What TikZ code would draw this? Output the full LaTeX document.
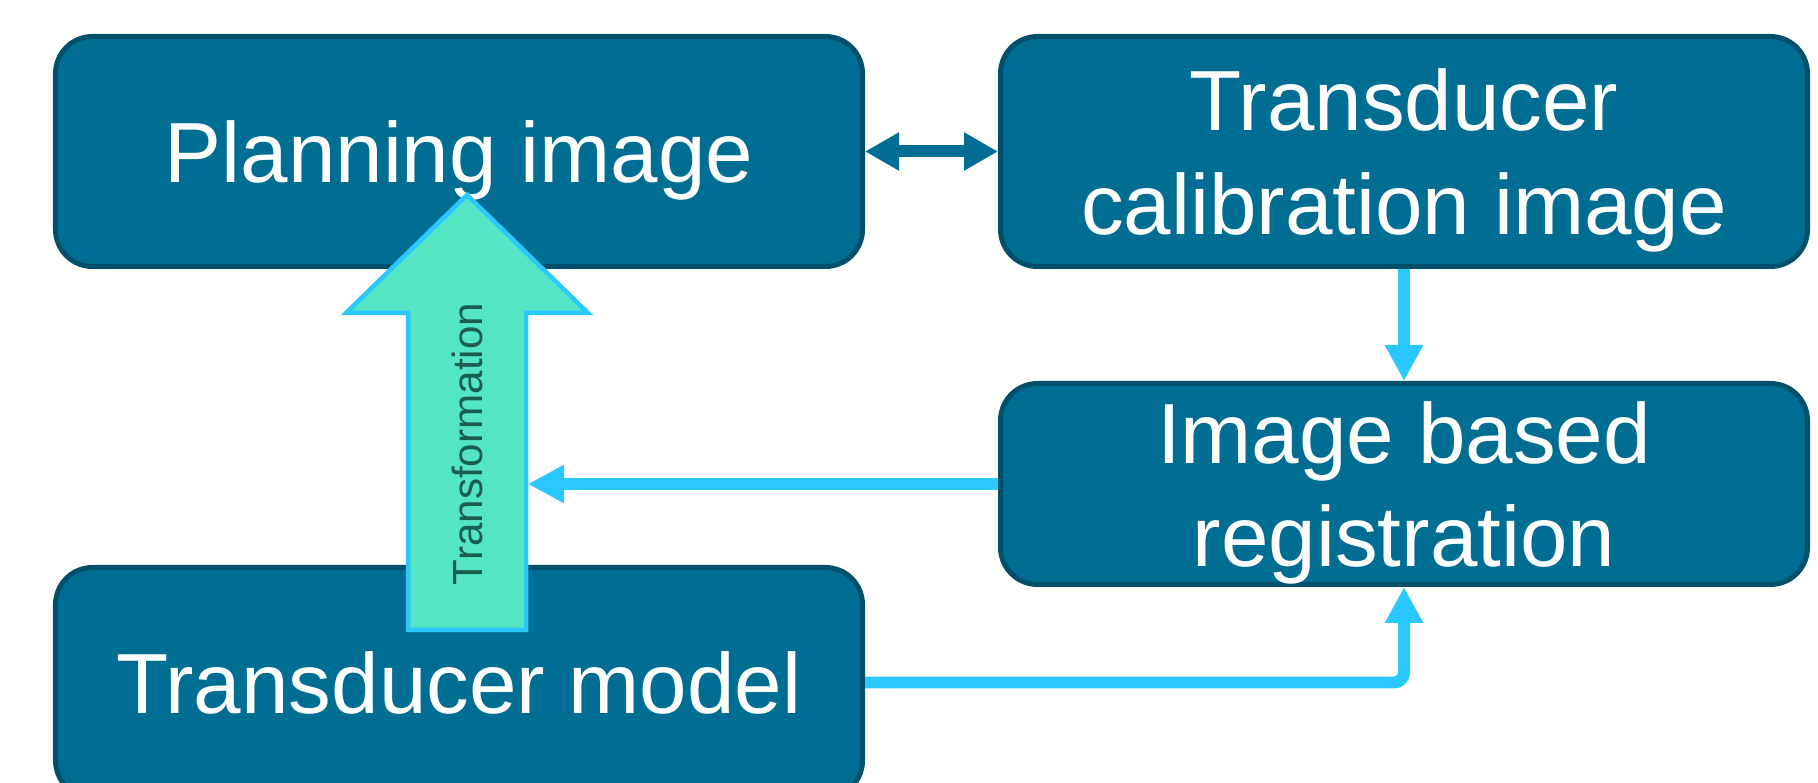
\documentclass[tikz,border=0pt]{standalone}
\usepackage{fontspec}
\setmainfont{Liberation Sans}
\usetikzlibrary{arrows.meta}

\definecolor{boxfill}{HTML}{006E92}
\definecolor{boxline}{HTML}{00506B}
\definecolor{linkblue}{HTML}{29C8FF}
\definecolor{trasfill}{HTML}{54E5C4}
\definecolor{trastext}{HTML}{1B5E4F}

\begin{document}
\begin{tikzpicture}[line join=round,
  blocco/.style={draw=boxline, fill=boxfill, line width=0.05cm, rounded corners=0.37cm,
    minimum width=8.07cm, minimum height=2.30cm, text=white, align=center,
    text depth=0pt, font=\fontsize{24.3}{29.5}\selectfont},
  link/.style={draw=linkblue, line width=0.12cm, line cap=butt,
    -{Triangle[length=0.36cm, width=0.36cm]}}]
  % area visibile (il blocco in basso esce dal foglio)
  \path[use as bounding box, clip] (0,0) rectangle (18.18,7.82);

  % i quattro blocchi
  \node[blocco] (piano) at (4.59,6.305) {Planning image};
  \node[blocco] (calib) at (14.04,6.305) {Transducer\\calibration image};
  \node[blocco, minimum height=2.01cm] (regis) at (14.04,2.98) {Image based\\registration};
  \node[blocco] (modello) at (4.59,0.995) {Transducer model};

  % freccia grande della trasformazione
  \draw[draw=linkblue, fill=trasfill, line width=0.045cm, line join=miter]
    (4.08,1.52) -- (4.08,4.69) -- (3.46,4.69) -- (4.67,5.87) -- (5.88,4.69)
    -- (5.26,4.69) -- (5.26,1.52) -- cycle;
  \node[rotate=90, text=trastext, font=\fontsize{12}{14}\selectfont] (trasf) at (4.67,3.38) {Transformation};
  \coordinate (fianco) at (5.28,2.98);

  % collegamenti
  \draw[link, draw=boxfill, {Triangle[length=0.34cm, width=0.36cm]}-{Triangle[length=0.34cm, width=0.36cm]}]
    (piano.east) -- (calib.west);
  \draw[link] (calib.south) -- (regis.north);
  \draw[link] (regis.west) -- (fianco);
  \draw[link, rounded corners=0.1cm] (modello.east) -| (regis.south);
\end{tikzpicture}
\end{document}
